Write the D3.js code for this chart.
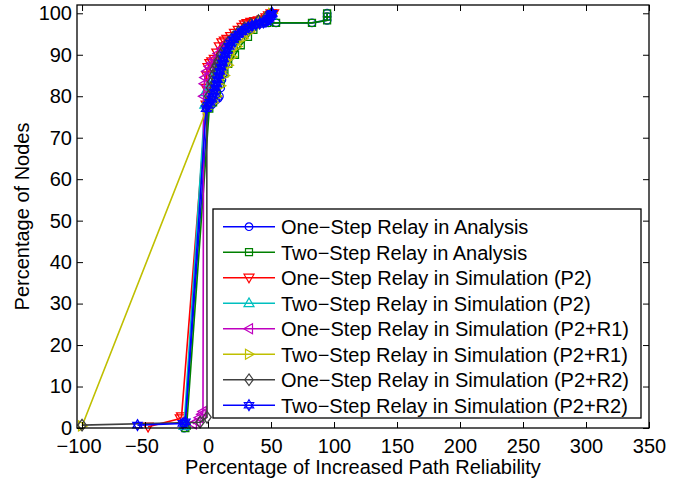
<!DOCTYPE html>
<html><head><meta charset="utf-8">
<script src="https://cdn.jsdelivr.net/npm/d3@7"></script>
<style>
body{margin:0;background:#fff}
svg{display:block}
text{font-family:"Liberation Sans",Arial,Helvetica,sans-serif;fill:#000}
</style>
</head><body>
<svg id="chart" width="678" height="482"></svg>
<script>
// ---------- data ----------
const xTicks = [-100,-50,0,50,100,150,200,250,300,350];
const yTicks = [0,10,20,30,40,50,60,70,80,90,100];
const seriesNames = [
  "One\u2212Step Relay in Analysis",
  "Two\u2212Step Relay in Analysis",
  "One\u2212Step Relay in Simulation (P2)",
  "Two\u2212Step Relay in Simulation (P2)",
  "One\u2212Step Relay in Simulation (P2+R1)",
  "Two\u2212Step Relay in Simulation (P2+R1)",
  "One\u2212Step Relay in Simulation (P2+R2)",
  "Two\u2212Step Relay in Simulation (P2+R2)"
];
const oneStepAnalysisX = [-19,-18,0,3,6,8,9,10,11,12,13,14.5,16,17,18.5,20,22,25,28,31,34,37,40,44,48,54,82.5,94.5,94.5,94.5];
const oneStepAnalysisY = [0,1,77,78,79,79.5,80,82,84,85.5,87,88,89,90,91.5,92.8,93.5,94.3,95,95.6,96,96.8,97.3,97.6,97.7,97.7,97.7,98.3,99.2,100];
const twoStepAnalysisX = [-18,-17,1,4,7,10,13,16,21.4,26,31.7,36,39.7,47,54,82.5,94.5,94.5,94.5];
const twoStepAnalysisY = [0,0.5,77,78.5,80.5,83,85.5,87.8,90,92.3,94.3,96,97.7,97.7,97.7,97.7,98.3,99.2,100];
const oneStepP2X = [-47.6,-22,-21,-1.5,-1.5,-1,0,1.5,3,5,7,9,11,13,15,18,21,24,27,29,31,34,37,40,43,46,48,50,52];
const oneStepP2Y = [0.3,2.3,2.8,78,82,85,87,88,88.4,89,90.5,92,93,93.4,93.8,94.5,95.3,96,96.7,97.3,97.6,97.9,98.1,98.3,98.5,99,99.5,100,100];
const twoStepP2X = [-19,-2.5,-2,1,3,5,7,9,12,15,18,22,26,30,35,40,45,50];
const twoStepP2Y = [0.5,78,81,82.5,84,85.5,87,88.5,90.5,92,93.2,94.5,95.5,96.3,97,97.7,98.5,99.5];
const oneStepR1X = [-12,-9,-7,-5,-4,-3.5,-3,-2.5,-1,1,3,5,8,11,14,18,22,27,32,38,44,49];
const oneStepR1Y = [1,1.5,2.5,3.3,4,80,83,84.5,86,87.2,88,89,90.3,91.5,92.6,93.8,94.8,95.8,96.7,97.5,98.3,99.3];
const twoStepR1X = [-100,-1,4,7,10,13,16,19,23,28,33,38,43,48,51];
const twoStepR1Y = [0.5,77,78.5,80,82.5,85,87.5,89.5,92,94,95.5,96.8,97.8,99,100];
const oneStepR2X = [-100,-6.3,-0.8,-1,0.5,2,3,4,5,6.5,8,10,13,16,20,24,29,34,40,46,50];
const oneStepR2Y = [0.7,1.4,2.6,78,80,82,83.5,85,86.5,87.5,88.5,90,91.5,93,94.3,95.5,96.5,97.4,98.2,99,99.8];
const twoStepR2X = [-56,-20,-18,-1.5,0,1.5,3,4,5,6,7,7.5,8.5,9.5,10.5,11.5,12.5,13.5,15,16.5,18,20,22,24.5,27,29.5,32,35,38,41,44,46,47.5,48.5,49.5,50,50.5,51];
const twoStepR2Y = [0.7,1.1,1.5,77,77.8,78.5,79.3,80,81,82,83,84,85,86,87,88,89,90,91,92,92.8,93.6,94.3,95,95.6,96.1,96.6,97,97.3,97.6,97.8,98,98.4,98.8,99.2,99.6,99.8,100];

const seriesX = [oneStepAnalysisX,twoStepAnalysisX,oneStepP2X,twoStepP2X,oneStepR1X,twoStepR1X,oneStepR2X,twoStepR2X];
const seriesY = [oneStepAnalysisY,twoStepAnalysisY,oneStepP2Y,twoStepP2Y,oneStepR1Y,twoStepR1Y,oneStepR2Y,twoStepR2Y];

// ---------- style ----------
const colors = ["#0000ff","#008000","#ff0000","#00bfbf","#bf00bf","#bfbf00","#404040","#0000ff"];
const markers = ["circle","square","tdown","tup","tleft","tright","diamond","hexagram"];

const svg = d3.select("#chart");
const L=77,R=649,T=5,B=428;
const x = d3.scaleLinear().domain([-104,350]).range([L,R]);
const y = d3.scaleLinear().domain([0,102]).range([B,T]);

function markerPath(type){
  const p = d3.path();
  if(type==="circle"){ p.arc(0,0,3.8,0,2*Math.PI); }
  else if(type==="square"){ p.rect(-3.5,-3.5,7,7); }
  else if(type==="tdown"){ p.moveTo(-5,-3.5);p.lineTo(5,-3.5);p.lineTo(0,5.2);p.closePath(); }
  else if(type==="tup"){ p.moveTo(-5,3.5);p.lineTo(5,3.5);p.lineTo(0,-5.2);p.closePath(); }
  else if(type==="tleft"){ p.moveTo(3.5,-5);p.lineTo(3.5,5);p.lineTo(-5.2,0);p.closePath(); }
  else if(type==="tright"){ p.moveTo(-3.5,-5);p.lineTo(-3.5,5);p.lineTo(5.2,0);p.closePath(); }
  else if(type==="diamond"){ p.moveTo(0,-5.8);p.lineTo(4.2,0);p.lineTo(0,5.8);p.lineTo(-4.2,0);p.closePath(); }
  else if(type==="hexagram"){
    const r=5.4;
    for(const off of [-90,90]){
      for(let k=0;k<3;k++){
        const a=(off+k*120)*Math.PI/180;
        const px=r*Math.cos(a), py=r*Math.sin(a);
        if(k===0) p.moveTo(px,py); else p.lineTo(px,py);
      }
      p.closePath();
    }
  }
  return p.toString();
}

// ---------- plot ----------
const plot = svg.append("g");
const line = d3.line().x(d=>x(d[0])).y(d=>y(d[1]));
seriesX.forEach((xs,i)=>{
  const pts = xs.map((v,j)=>[v,seriesY[i][j]]);
  const g = plot.append("g");
  g.append("path").datum(pts).attr("d",line)
    .attr("fill","none").attr("stroke",colors[i]).attr("stroke-width",1.6);
  g.selectAll("path.m").data(pts).join("path").attr("class","m")
    .attr("transform",d=>`translate(${x(d[0])},${y(d[1])})`)
    .attr("d",markerPath(markers[i]))
    .attr("fill","none").attr("stroke",colors[i]).attr("stroke-width",1.3);
});

// ---------- axes ----------
const fs = 20;
const gx = svg.append("g").attr("transform",`translate(0,${B})`)
  .call(d3.axisBottom(x).tickValues(xTicks).tickSizeInner(-6).tickSizeOuter(0).tickPadding(11).tickFormat(d=>d<0?"\u2212"+Math.abs(d):d));
gx.selectAll("text").attr("font-size",fs).attr("font-family","Liberation Sans, Arial, sans-serif").attr("dx",d=>d<0?-3.5:0);
const gt = svg.append("g").attr("transform",`translate(0,${T})`)
  .call(d3.axisTop(x).tickValues(xTicks).tickSizeInner(-6).tickSizeOuter(0).tickFormat(""));
const gy = svg.append("g").attr("transform",`translate(${L},0)`)
  .call(d3.axisLeft(y).tickValues(yTicks).tickSizeInner(-6).tickSizeOuter(0).tickPadding(5));
gy.selectAll("text").attr("font-size",fs).attr("font-family","Liberation Sans, Arial, sans-serif");
const gr = svg.append("g").attr("transform",`translate(${R},0)`)
  .call(d3.axisRight(y).tickValues(yTicks).tickSizeInner(-6).tickSizeOuter(0).tickFormat(""));
[gx,gt,gy,gr].forEach(g=>{g.select(".domain").remove(); g.selectAll("line").attr("stroke","#000");});
svg.append("rect").attr("x",L).attr("y",T).attr("width",R-L).attr("height",B-T)
  .attr("fill","none").attr("stroke","#000").attr("stroke-width",1.3);

svg.append("text").attr("x",(L+R)/2).attr("y",474).attr("text-anchor","middle")
  .attr("font-size",fs).text("Percentage of Increased Path Reliability");
svg.append("text").attr("transform",`translate(29,${(T+B)/2}) rotate(-90)`).attr("text-anchor","middle")
  .attr("font-size",fs).text("Percentage of Nodes");

// ---------- legend ----------
const lg = svg.append("g");
lg.append("rect").attr("x",213).attr("y",209).attr("width",428).attr("height",209)
  .attr("fill","#fff").attr("stroke","#000").attr("stroke-width",1.3);
seriesNames.forEach((name,i)=>{
  const cy = 226.7 + i*25.5;
  lg.append("line").attr("x1",223).attr("x2",275).attr("y1",cy).attr("y2",cy)
    .attr("stroke",colors[i]).attr("stroke-width",1.5);
  lg.append("path").attr("transform",`translate(249,${cy})`).attr("d",markerPath(markers[i]))
    .attr("fill","none").attr("stroke",colors[i]).attr("stroke-width",1.2);
  lg.append("text").attr("x",281).attr("y",cy+7.3).attr("font-size",fs).text(name);
});
</script>
</body></html>
